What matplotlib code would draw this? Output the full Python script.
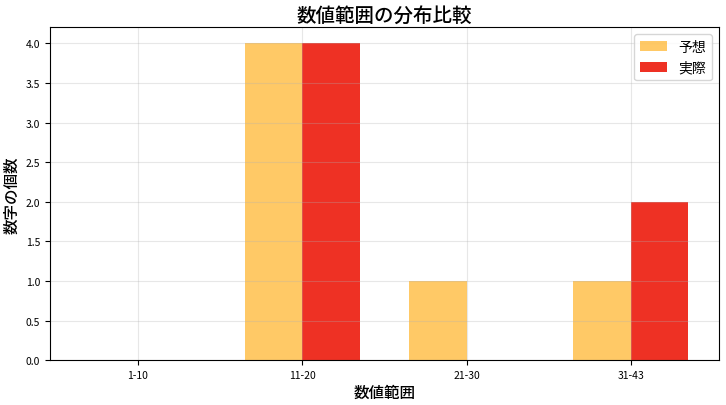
import matplotlib
matplotlib.use("Agg")
import matplotlib.pyplot as plt
import numpy as np

plt.rcParams['font.family'] = ['Noto Sans CJK JP', 'DejaVu Sans']

categories = ['1-10', '11-20', '21-30', '31-43']
predicted = [0, 4, 1, 1]
actual = [0, 4, 0, 2]
series_names = ['予想', '実際']

fig, ax = plt.subplots(figsize=(7.26, 4.06), dpi=100)
x = np.arange(len(categories))
w = 0.35
ax.bar(x - w/2, predicted, w, color='#FFA500', alpha=0.6, label=series_names[0])
ax.bar(x + w/2, actual, w, color='#EE3124', label=series_names[1])
ax.set_xticks(x)
ax.set_xticklabels(categories)
ax.tick_params(labelsize=7.5)
ax.set_title('数値範囲の分布比較', fontsize=14, fontweight='medium', pad=5)
ax.set_xlabel('数値範囲', fontsize=11.2, fontweight='medium', labelpad=3)
ax.set_ylabel('数字の個数', fontsize=11.2, fontweight='medium')
ax.grid(True, alpha=0.3)
ax.legend(fontsize=10)
fig.subplots_adjust(left=0.069, right=0.99, top=0.93, bottom=0.11)
fig.savefig('out.png', dpi=100)
